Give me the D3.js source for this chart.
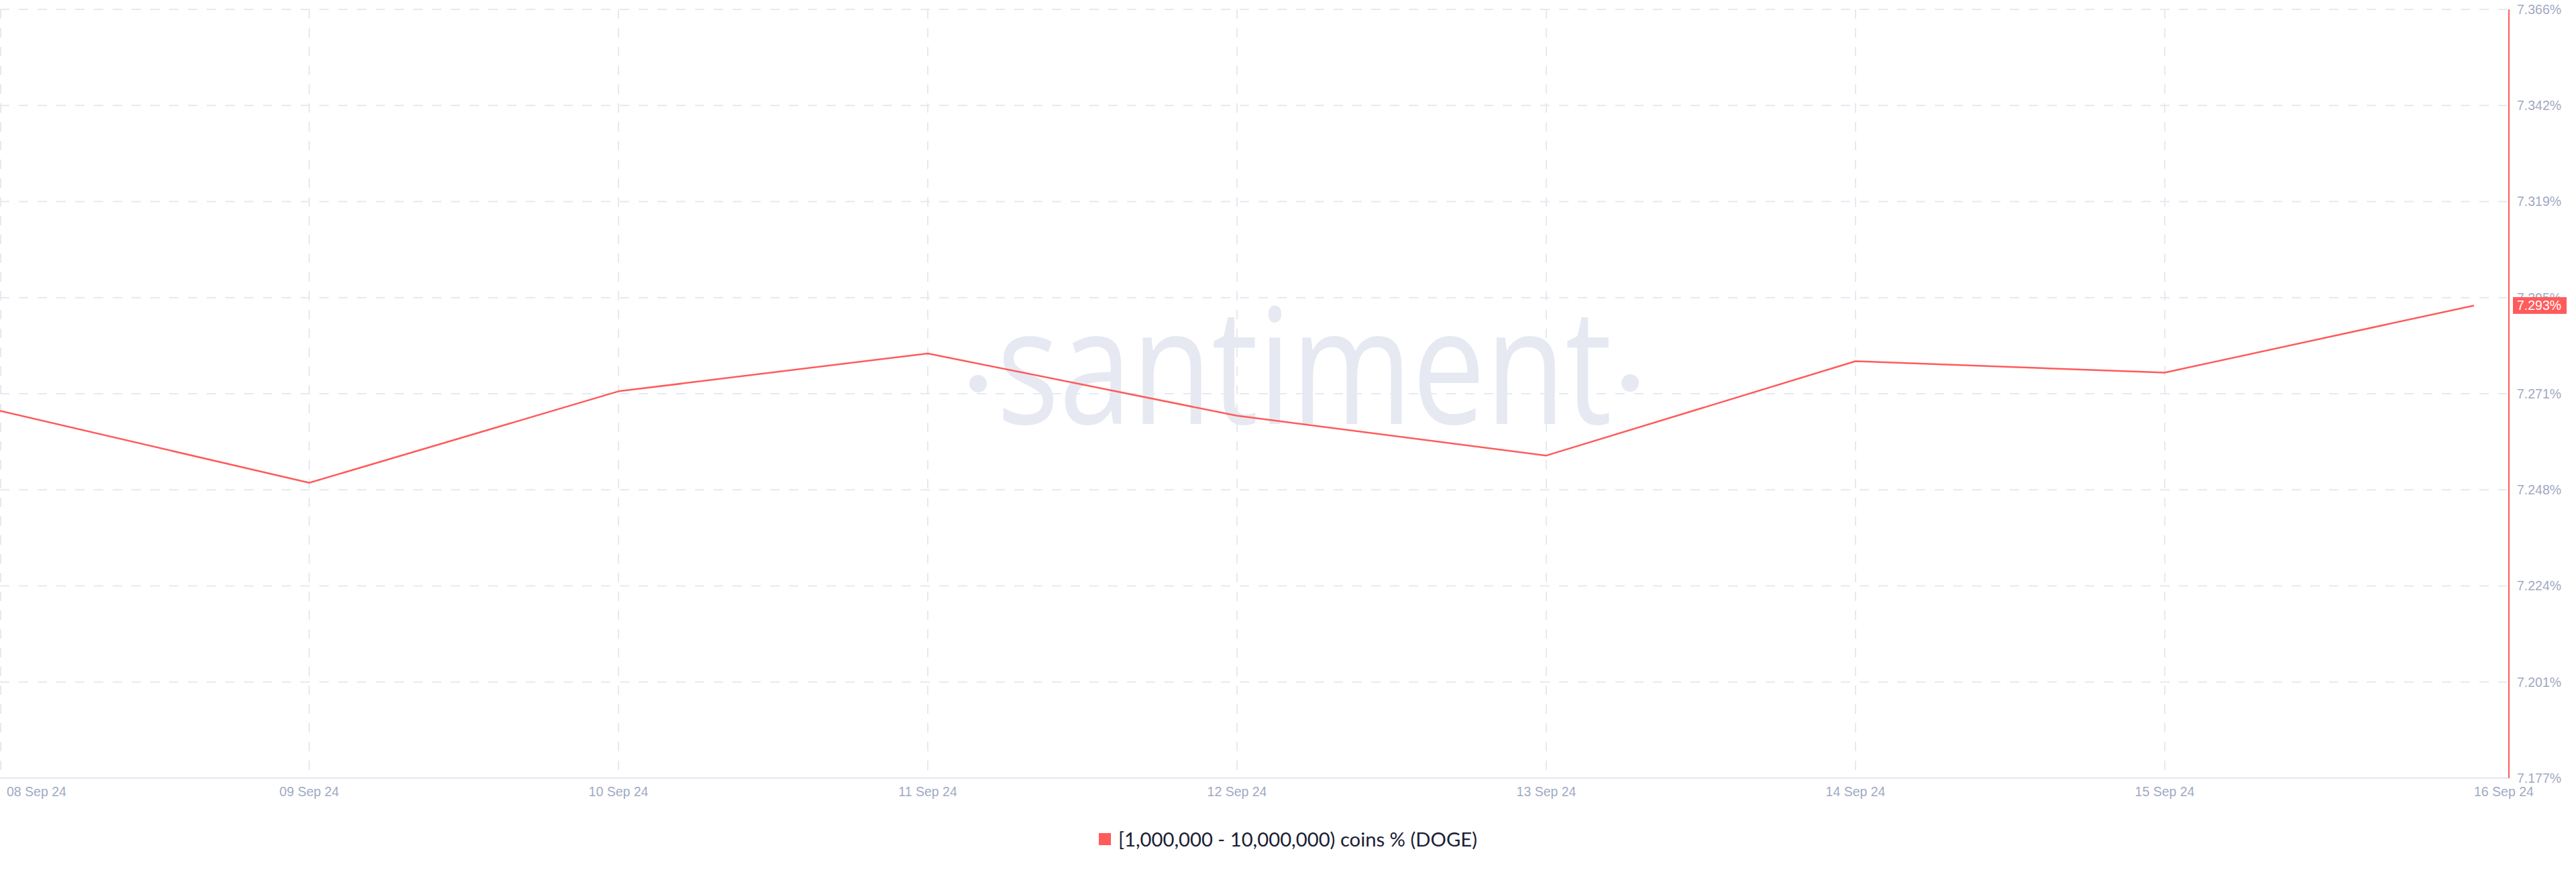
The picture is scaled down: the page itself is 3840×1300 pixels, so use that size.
<!DOCTYPE html>
<html>
<head>
<meta charset="utf-8">
<script src="https://cdn.jsdelivr.net/npm/d3@7"></script>
<style>
  html, body { margin: 0; padding: 0; background: #ffffff; }
  svg { display: block; }
</style>
</head>
<body>
<svg id="chart" width="3840" height="1300"></svg>
<script>
// ---- data ----
const dates = ["08 Sep 24", "09 Sep 24", "10 Sep 24", "11 Sep 24", "12 Sep 24", "13 Sep 24", "14 Sep 24", "15 Sep 24", "16 Sep 24"];
const values = [7.2673, 7.2496, 7.2721, 7.2814, 7.2661, 7.2563, 7.2795, 7.2767, 7.2932];
const yTickValues = [7.177, 7.20063, 7.22425, 7.24788, 7.2715, 7.29513, 7.31875, 7.34238, 7.366];
const yTickLabels = ["7.177%", "7.201%", "7.224%", "7.248%", "7.271%", "7.295%", "7.319%", "7.342%", "7.366%"];
const lastLabel = "7.293%";
const seriesName = "[1,000,000 - 10,000,000) coins % (DOGE)";

// ---- layout ----
const RED = "#ff5b5b";
const GRID = "#e6e9f1";
const AXIS_TEXT = "#9fa9c3";
const plotLeft = 0, plotRight = 3740, plotTop = 14, plotBottom = 1160;
const lastX = 3688;

const svg = d3.select("#chart");

const x = d3.scalePoint().domain(dates).range([plotLeft, lastX]);
const y = d3.scaleLinear().domain([yTickValues[0], yTickValues[yTickValues.length - 1]]).range([plotBottom, plotTop]);

// watermark
const wm = svg.append("g").attr("fill", "#e6e9f2");
wm.append("text")
  .attr("x", 1486).attr("y", 632)
  .attr("font-family", "'Open Sans', sans-serif")
  .attr("font-size", 241)
  .attr("textLength", 917)
  .attr("lengthAdjust", "spacingAndGlyphs")
  .text("santiment");
wm.append("circle").attr("cx", 1458).attr("cy", 572).attr("r", 13);
wm.append("circle").attr("cx", 2430).attr("cy", 571).attr("r", 13);

// horizontal grid
svg.append("g")
  .selectAll("line")
  .data(yTickValues.slice(1))
  .join("line")
  .attr("x1", plotLeft).attr("x2", plotRight - 3)
  .attr("y1", d => y(d)).attr("y2", d => y(d))
  .attr("stroke", GRID).attr("stroke-width", 2)
  .attr("stroke-dasharray", "14 14");

// vertical grid (no line at the last date)
svg.append("g")
  .selectAll("line")
  .data(dates.slice(0, -1))
  .join("line")
  .attr("x1", (d, i) => x(d) + (i === 0 ? 1 : 0)).attr("x2", (d, i) => x(d) + (i === 0 ? 1 : 0))
  .attr("y1", plotTop).attr("y2", plotBottom)
  .attr("stroke", GRID).attr("stroke-width", 2)
  .attr("stroke-dasharray", "14 14");

// x axis baseline
svg.append("line")
  .attr("x1", plotLeft).attr("x2", plotRight)
  .attr("y1", plotBottom).attr("y2", plotBottom)
  .attr("stroke", "#e3e6ee").attr("stroke-width", 2);

// x labels
svg.append("g")
  .selectAll("text")
  .data(dates)
  .join("text")
  .attr("x", (d, i) => i === 0 ? x(d) + 10 : x(d))
  .attr("y", 1180)
  .attr("dy", "0.35em")
  .attr("text-anchor", (d, i) => (i === 0 || i === dates.length - 1) ? "start" : "middle")
  .attr("font-family", "'Liberation Sans', Arial, sans-serif")
  .attr("font-size", 19.5)
  .attr("fill", AXIS_TEXT)
  .text(d => d);

// right axis line
svg.append("line")
  .attr("x1", plotRight).attr("x2", plotRight)
  .attr("y1", plotTop).attr("y2", plotBottom)
  .attr("stroke", RED).attr("stroke-width", 2);

// y labels
svg.append("g")
  .selectAll("text")
  .data(yTickValues)
  .join("text")
  .attr("x", 3752)
  .attr("y", d => y(d))
  .attr("dy", "0.35em")
  .attr("font-family", "'Liberation Sans', Arial, sans-serif")
  .attr("font-size", 19.5)
  .attr("fill", AXIS_TEXT)
  .text((d, i) => yTickLabels[i]);

// series line
const line = d3.line()
  .x((d, i) => x(dates[i]))
  .y(d => y(d));
svg.append("path")
  .datum(values)
  .attr("d", line)
  .attr("fill", "none")
  .attr("stroke", RED)
  .attr("stroke-width", 2.5)
  .attr("stroke-linejoin", "round");

// last value badge
const lastY = y(values[values.length - 1]);
svg.append("rect")
  .attr("x", 3746).attr("y", lastY - 12.5)
  .attr("width", 80).attr("height", 25)
  .attr("fill", RED);
svg.append("text")
  .attr("x", 3752).attr("y", lastY)
  .attr("dy", "0.35em")
  .attr("font-family", "'Liberation Sans', Arial, sans-serif")
  .attr("font-size", 19.5)
  .attr("fill", "#ffffff")
  .text(lastLabel);

// legend
svg.append("rect")
  .attr("x", 1638).attr("y", 1242)
  .attr("width", 18).attr("height", 18)
  .attr("fill", RED);
svg.append("text")
  .attr("x", 1667).attr("y", 1252)
  .attr("dy", "0.35em")
  .attr("font-family", "Lato, sans-serif")
  .attr("font-size", 29.5)
  .attr("fill", "#1b2033")
  .attr("textLength", 535)
  .attr("lengthAdjust", "spacingAndGlyphs")
  .text(seriesName);
</script>
</body>
</html>
